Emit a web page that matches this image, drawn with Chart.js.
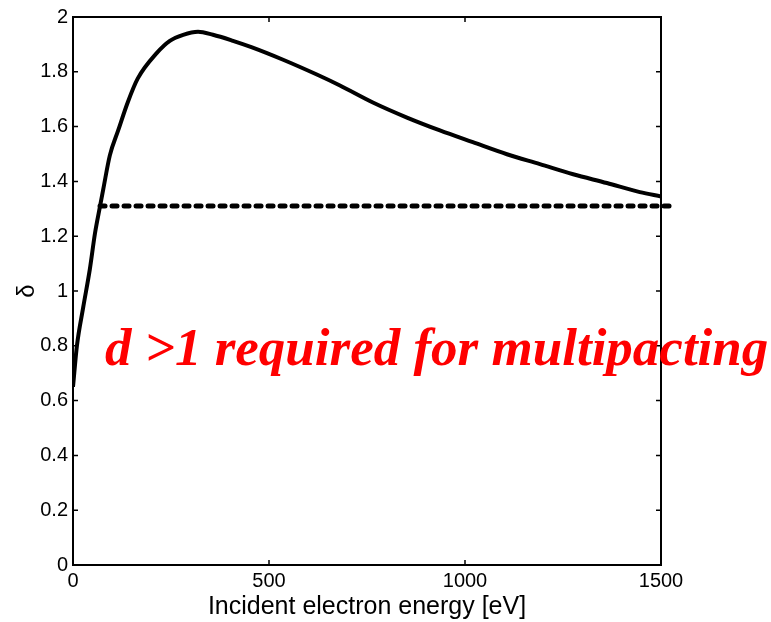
<!DOCTYPE html>
<html>
<head>
<meta charset="utf-8">
<script src="https://cdn.jsdelivr.net/npm/chart.js@4.4.1/dist/chart.umd.min.js"></script>
<style>
  html, body { margin: 0; padding: 0; background: #fff; }
  #wrap { width: 771px; height: 622px; }
</style>
</head>
<body>
<div id="wrap"><canvas id="chart" width="771" height="622"></canvas></div>
<script>
// secondary emission yield vs incident energy
const energy = [0, 10, 26, 43, 56, 69, 77, 94, 115, 140, 165, 214, 247, 281, 319, 357, 408, 455, 536, 622, 681, 765, 852, 936, 1020, 1107, 1191, 1276, 1362, 1446, 1500];
const delta = [0.65, 0.80, 0.94, 1.08, 1.21, 1.31, 1.37, 1.495, 1.585, 1.69, 1.775, 1.869, 1.913, 1.935, 1.946, 1.935, 1.913, 1.89, 1.844, 1.79, 1.75, 1.688, 1.633, 1.586, 1.543, 1.499, 1.463, 1.426, 1.394, 1.361, 1.345];

// threshold line
const thresholdX = [69, 1530];
const thresholdY = [1.31, 1.31];

const xTicks = [0, 500, 1000, 1500];
const yTicks = [0, 0.2, 0.4, 0.6, 0.8, 1, 1.2, 1.4, 1.6, 1.8, 2];

const note = 'd >1 required for multipacting';

const frame = {
  id: 'frame',
  afterDraw(chart) {
    const { ctx, chartArea: a, scales } = chart;
    ctx.save();
    ctx.strokeStyle = '#000';
    ctx.lineWidth = 2;
    ctx.strokeRect(a.left, a.top, a.right - a.left, a.bottom - a.top);
    ctx.lineWidth = 1.5;
    const len = 5;
    ctx.beginPath();
    xTicks.forEach((v) => {
      const px = scales.x.getPixelForValue(v);
      ctx.moveTo(px, a.bottom); ctx.lineTo(px, a.bottom - len);
      ctx.moveTo(px, a.top); ctx.lineTo(px, a.top + len);
    });
    yTicks.forEach((v) => {
      const py = scales.y.getPixelForValue(v);
      ctx.moveTo(a.left, py); ctx.lineTo(a.left + len, py);
      ctx.moveTo(a.right, py); ctx.lineTo(a.right - len, py);
    });
    ctx.stroke();

    ctx.fillStyle = '#ff0000';
    ctx.font = 'bold italic 53px "Liberation Serif", "Times New Roman", serif';
    ctx.textBaseline = 'alphabetic';
    ctx.fillText(note, a.left + 32, a.top + 348);
    ctx.restore();
  }
};

const tickFont = { family: '"Liberation Sans", Arial', size: 20 };

new Chart(document.getElementById('chart'), {
  type: 'line',
  data: {
    datasets: [
      {
        data: energy.map((x, i) => ({ x, y: delta[i] })),
        borderColor: '#000',
        borderWidth: 4,
        pointRadius: 0,
        cubicInterpolationMode: 'monotone'
      },
      {
        data: thresholdX.map((x, i) => ({ x, y: thresholdY[i] })),
        borderColor: '#000',
        borderWidth: 5,
        borderDash: [5, 7],
        borderCapStyle: 'round',
        pointRadius: 0,
        clip: false
      }
    ]
  },
  options: {
    responsive: false,
    animation: false,
    events: [],
    layout: { padding: { top: 14, right: 110, left: 0, bottom: 0 } },
    plugins: { legend: { display: false }, tooltip: { enabled: false } },
    scales: {
      x: {
        type: 'linear',
        min: 0,
        max: 1500,
        afterFit: (s) => { s.height = 57; },
        afterBuildTicks: (s) => { s.ticks = xTicks.map((v) => ({ value: v })); },
        grid: { display: false, drawTicks: false },
        border: { display: false },
        ticks: { color: '#000', padding: 4, maxRotation: 0, font: tickFont, callback: (v) => String(v) },
        title: {
          display: true,
          text: 'Incident electron energy [eV]',
          color: '#000',
          padding: { top: 0, bottom: 0 },
          font: { family: '"Liberation Sans", Arial', size: 25 }
        }
      },
      y: {
        min: 0,
        max: 2,
        afterFit: (s) => { s.width = 73; },
        afterBuildTicks: (s) => { s.ticks = yTicks.map((v) => ({ value: v })); },
        grid: { display: false, drawTicks: false },
        border: { display: false },
        ticks: { color: '#000', padding: 5, font: tickFont, callback: (v) => String(Math.round(v * 10) / 10) },
        title: {
          display: true,
          text: 'δ',
          color: '#000',
          padding: { top: 13, bottom: 0 },
          font: { family: '"Liberation Sans", Arial', size: 24 }
        }
      }
    }
  },
  plugins: [frame]
});
</script>
</body>
</html>
